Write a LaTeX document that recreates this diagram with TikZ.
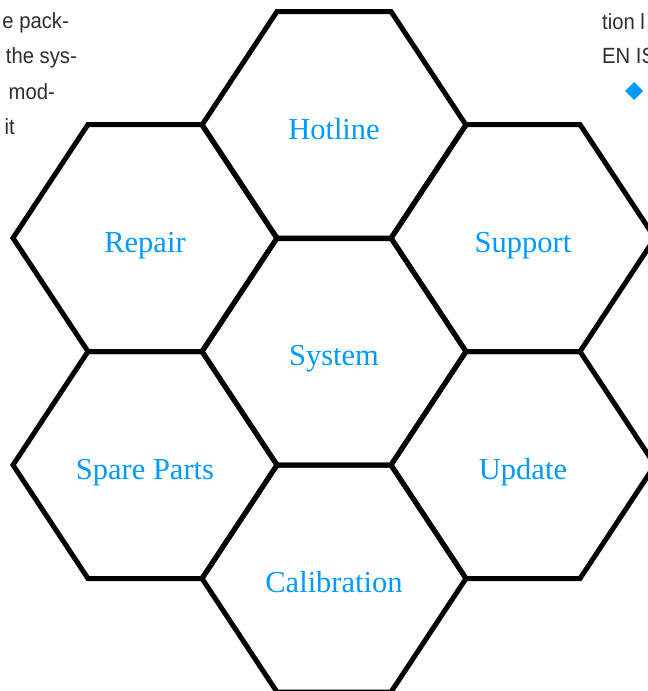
\documentclass[tikz,border=0pt]{standalone}
\usepackage{fontspec}
\setmainfont{Liberation Serif}
\newfontfamily\condfont[FakeStretch=0.92]{Liberation Sans}
\usetikzlibrary{calc,positioning}
\definecolor{hexblue}{RGB}{0,153,255}
\definecolor{bodygray}{RGB}{45,45,45}

\begin{document}
\begin{tikzpicture}[x=1pt,y=-1pt,
        hex/.style={draw=black,line width=5pt,line join=miter},
        cell/.style={text=hexblue,font=\fontsize{30.5}{36}\selectfont,inner sep=0pt,anchor=base,yshift=-14pt},
        body/.style={text=bodygray,font=\condfont\fontsize{22}{26}\selectfont,inner sep=0pt}
      ]
  \useasboundingbox (0,0) rectangle (648,691);
  \clip (0,0) rectangle (648,691);

  % centres of the cells
  \coordinate (hotline) at (334,125);
  \coordinate (repair) at (145,238);
  \coordinate (support) at (523,238);
  \coordinate (system) at (334,351.5);
  \coordinate (spare) at (145,465);
  \coordinate (update) at (523,465);
  \coordinate (calib) at (334,578.5);

  \foreach \c in {hotline,repair,support,system,spare,update,calib}
    \draw[hex] ($(\c)+(-132,0)$) -- ($(\c)+(-57,-113.5)$) -- ($(\c)+(57,-113.5)$)
      -- ($(\c)+(132,0)$) -- ($(\c)+(57,113.5)$) -- ($(\c)+(-57,113.5)$) -- cycle;

  \node (hotlinetext) [cell] at (hotline) {Hotline};
  \node (repairtext) [cell] at (repair) {Repair};
  \node (supporttext) [cell] at (support) {Support};
  \node (systemtext) [cell] at (system) {System};
  \node (sparetext) [cell] at (spare) {Spare Parts};
  \node (updatetext) [cell] at (update) {Update};
  \node (calibtext) [cell] at (calib) {Calibration};

  % running text of the page, cut off at the edges
  \node (left1) [body,anchor=base east] at (69,28) {e pack-};
  \node (left2) [body,anchor=base east] at (77,63) {the sys-};
  \node (left3) [body,anchor=base east] at (55,99) {mod-};
  \node (left4) [body,anchor=base east] at (15,134) {it};
  \node (right1) [body,anchor=base west] at (602,29) {tion l};
  \node (right2) [body,anchor=base west] at (602,63) {EN IS};
  \fill[hexblue] (634,82) -- (643,91) -- (634,100) -- (625,91) -- cycle;

\end{tikzpicture}
\end{document}
